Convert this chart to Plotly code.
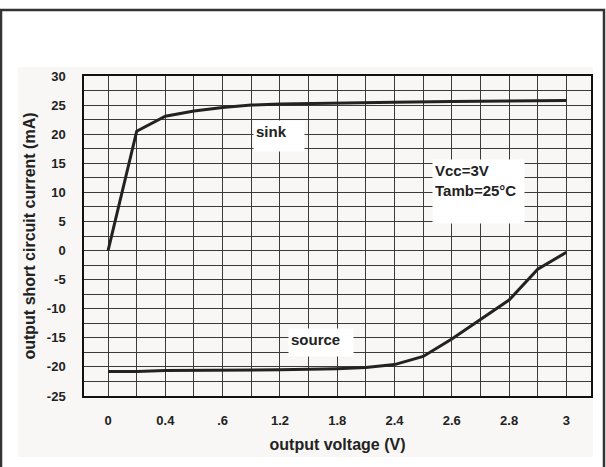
import plotly.graph_objects as go

# x axis is drawn on an evenly spaced grid; the printed voltages are uneven
x_tick_pos = [0, 1, 2, 3, 4, 5, 6, 7, 8]
x_tick_labels = ["0", "0.4", ".6", "1.2", "1.8", "2.4", "2.6", "2.8", "3"]

y_ticks = [30, 25, 20, 15, 10, 5, 0, -5, -10, -15, -20, -25]
y_tick_labels = ["30", "25", "20", "15", "10", "5", "0", "-5", "-10", "-15", "-20", "-25"]

sink_pos = [0, 0.5, 1, 1.5, 2, 2.5, 3, 3.5, 4, 5, 6, 7, 8]
sink_ma = [0, 20.5, 23.1, 24.0, 24.6, 25.0, 25.2, 25.3, 25.3, 25.5, 25.6, 25.7, 25.8]

source_pos = [0, 0.5, 1, 2, 3, 4, 4.5, 5, 5.5, 6, 7, 7.5, 8]
source_ma = [-20.8, -20.8, -20.6, -20.6, -20.5, -20.3, -20.1, -19.6, -18.2, -15.2, -8.5, -3.2, -0.3]

W, H = 606, 467
L, R, T, B = 84, 15, 76, 71
PW, PH = W - L - R, H - T - B
FONT = "Liberation Sans, Arial, sans-serif"
INK = "#222222"
GRID = "#3a3a3a"


def px_x(px):
    return (px - L) / PW


def px_y(py):
    return (H - B - py) / PH


fig = go.Figure()
fig.add_trace(
    go.Scatter(x=sink_pos, y=sink_ma, mode="lines", name="sink",
               line=dict(color=INK, width=3))
)
fig.add_trace(
    go.Scatter(x=source_pos, y=source_ma, mode="lines", name="source",
               line=dict(color=INK, width=3))
)

# light panel behind the chart and the outer page frame
fig.add_shape(type="rect", xref="paper", yref="paper", layer="below",
              x0=px_x(18), x1=px_x(593), y0=px_y(457), y1=px_y(67),
              fillcolor="#f8f7f5", line=dict(width=0))
fig.add_shape(type="rect", xref="paper", yref="paper",
              x0=px_x(1), x1=px_x(604), y0=px_y(480), y1=px_y(10),
              line=dict(color="#333333", width=2.5))

box_font = dict(family=FONT, size=15, color=INK, weight="bold")
fig.add_annotation(x=px_x(253), y=px_y(120), xref="paper", yref="paper",
                   xanchor="left", yanchor="top", text="sink", showarrow=False,
                   align="left", valign="top", bgcolor="white", borderpad=2,
                   width=46, height=26, font=box_font)
fig.add_annotation(x=px_x(288), y=px_y(328), xref="paper", yref="paper",
                   xanchor="left", yanchor="top", text="source", showarrow=False,
                   align="left", valign="top", bgcolor="white", borderpad=2,
                   width=60, height=23, font=box_font)
fig.add_annotation(x=px_x(432), y=px_y(159), xref="paper", yref="paper",
                   xanchor="left", yanchor="top", text="Vcc=3V<br>Tamb=25°C",
                   showarrow=False, align="left", valign="top", bgcolor="white",
                   borderpad=2, width=87, height=59, font=box_font)

tick_font = dict(family=FONT, size=13, color=INK, weight="bold")
title_font = dict(family=FONT, size=16, color=INK, weight="bold")

fig.update_layout(
    width=W,
    height=H,
    margin=dict(l=L, r=R, t=T, b=B, pad=0),
    paper_bgcolor="white",
    plot_bgcolor="#f8f7f5",
    showlegend=False,
    xaxis=dict(
        range=[-0.42, 8.43],
        tickmode="array",
        tickvals=x_tick_pos,
        ticktext=x_tick_labels,
        ticks="",
        ticklabelstandoff=12,
        tickfont=tick_font,
        automargin=False,
        showgrid=True,
        gridcolor=GRID,
        gridwidth=1,
        minor=dict(tickmode="linear", tick0=0, dtick=0.5, showgrid=True,
                   gridcolor=GRID, gridwidth=1),
        zeroline=False,
        showline=True,
        linecolor="#111111",
        linewidth=1.5,
        mirror=True,
        title=dict(text="output voltage (V)", font=title_font, standoff=11),
    ),
    yaxis=dict(
        range=[-25, 30],
        tickmode="array",
        tickvals=y_ticks,
        ticktext=y_tick_labels,
        ticks="",
        ticklabelstandoff=14,
        tickfont=tick_font,
        automargin=False,
        showgrid=True,
        gridcolor=GRID,
        gridwidth=1,
        minor=dict(tickmode="linear", tick0=0, dtick=2.5, showgrid=True,
                   gridcolor=GRID, gridwidth=1),
        zeroline=False,
        showline=True,
        linecolor="#111111",
        linewidth=1.5,
        mirror=True,
        title=dict(text="output short circuit current (mA)", font=title_font,
                   standoff=7),
    ),
)

# the page's default body margin would push the figure 8px off
fig.write_html("out.html", config={"displayModeBar": False},
               post_script="document.body.style.margin='0';")
